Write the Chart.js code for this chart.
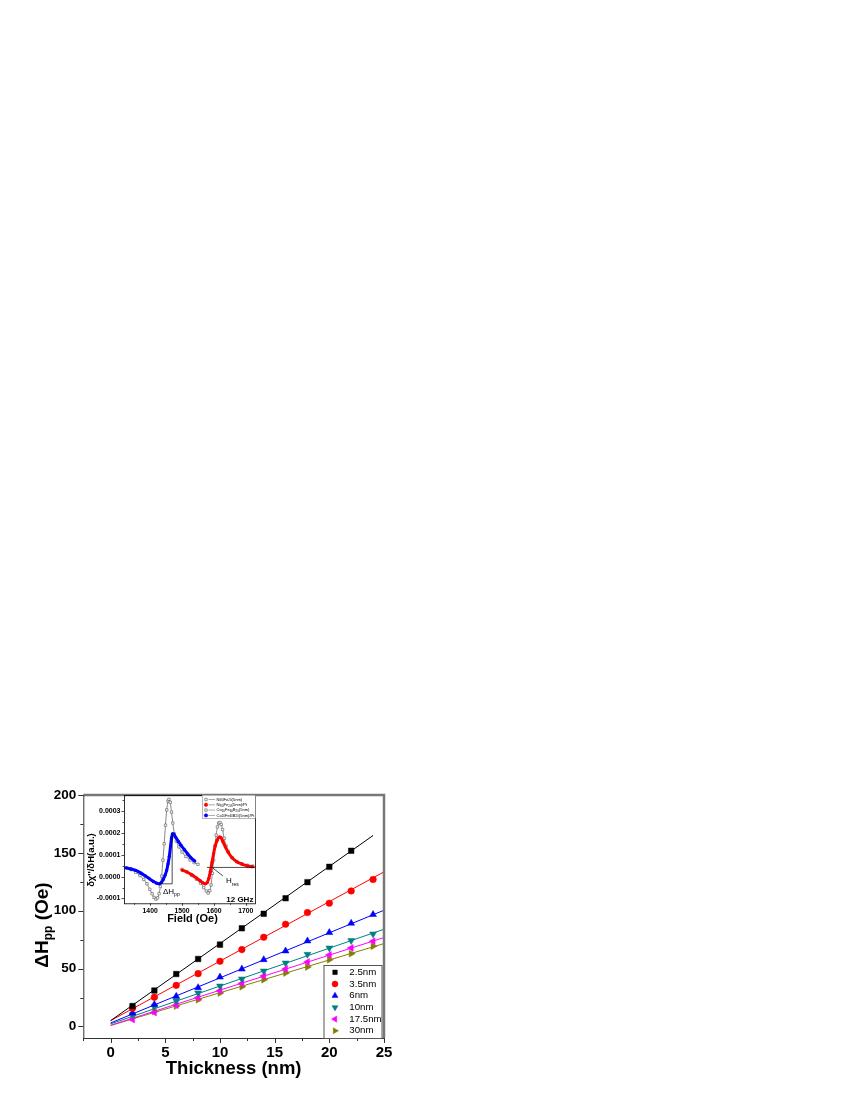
<!DOCTYPE html>
<html><head><meta charset="utf-8">
<script src="https://cdn.jsdelivr.net/npm/chart.js@4.4.0/dist/chart.umd.min.js"></script>
<style>
html,body{margin:0;padding:0;background:#fff;}
#wrap{position:relative;width:850px;height:1100px;background:#fff;}
#main{position:absolute;left:0;top:0;}
#inset{position:absolute;left:80px;top:788px;}
</style></head><body>
<div id="wrap"><canvas id="main" width="850" height="1100"></canvas><canvas id="inset" width="180" height="150"></canvas></div>
<script>
const FONT = "'Liberation Sans', Arial, Helvetica, sans-serif";

// ---------------- main chart data ----------------
const thickness = [2,4,6,8,10,12,14,16,18,20,22,24];
const seriesLabels = ['2.5nm','3.5nm','6nm','10nm','17.5nm','30nm'];
const dH_2_5  = [17.6,31.0,45.3,58.3,70.7,84.8,97.3,110.8,124.7,137.9,151.8,null];
const dH_3_5  = [15.8,25.2,35.5,45.6,56.3,66.4,77.1,88.3,98.4,106.5,117.1,127.0];
const dH_6    = [11.5,19.0,26.0,33.5,42.7,49.6,57.7,65.2,73.9,81.1,89.2,96.7];
const dH_10   = [10.0,17.0,22.2,28.9,34.9,41.0,47.9,54.8,62.3,67.8,74.2,79.9];
const dH_17_5 = [6.0,12.0,18.4,24.8,30.9,37.2,43.6,49.6,55.7,61.8,67.8,73.6];
const dH_30   = [7.8,13.0,17.6,23.1,28.9,34.3,40.4,46.2,51.4,57.7,62.9,69.3];
// linear fit end points
const fitX0 = [0,0,0,0,0,0];
const fitY0 = [5.0,5.0,3.0,2.2,1.0,0.8];
const fitX1 = [24,25,25,25,25,25];
const fitY1 = [165,133.6,100.4,84.0,76.8,71.6];
const xTickVals = [-2.5,0,2.5,5,7.5,10,12.5,15,17.5,20,22.5,25];
const yTickVals = [0,25,50,75,100,125,150,175,200];

// ---------------- inset data (y in units of 1e-4) ----------------
const coFeB_x = [1325,1340,1355,1368,1380,1390,1399,1406,1412,1418,1423,1428,1432,1436,1440,1444,1448,1452,1456,1459,1463,1467,1471,1476,1482,1490,1500,1512,1525,1538,1550];
const coFeB_y = [0.40,0.32,0.20,0.05,-0.13,-0.33,-0.58,-0.78,-0.95,-1.03,-0.97,-0.78,-0.45,0.02,0.75,1.50,2.35,3.05,3.45,3.53,3.40,2.95,2.45,1.95,1.62,1.36,1.12,0.92,0.76,0.64,0.56];
const coFeBPt_x = [1325,1340,1355,1370,1385,1398,1410,1420,1428,1435,1441,1447,1452,1456,1460,1464,1467,1470,1474,1480,1488,1497,1507,1517,1528,1540];
const coFeBPt_y = [0.40,0.35,0.28,0.17,0.03,-0.10,-0.22,-0.30,-0.33,-0.27,-0.13,0.07,0.30,0.58,0.92,1.40,1.75,1.96,1.94,1.80,1.62,1.43,1.24,1.05,0.86,0.71];
const niFe_x = [1500,1515,1530,1545,1558,1568,1576,1582,1587,1591,1595,1599,1603,1607,1611,1615,1619,1623,1627,1632,1638,1645,1657,1672,1688,1705,1722];
const niFe_y = [0.33,0.22,0.05,-0.12,-0.30,-0.50,-0.66,-0.75,-0.64,-0.38,0.15,0.75,1.40,1.90,2.27,2.45,2.47,2.38,2.15,1.75,1.40,1.15,0.87,0.68,0.58,0.52,0.48];
const niFePt_x = [1500,1515,1530,1545,1557,1566,1573,1579,1584,1589,1594,1599,1604,1610,1617,1622,1628,1636,1645,1657,1672,1688,1705,1722];
const niFePt_y = [0.30,0.21,0.09,-0.06,-0.19,-0.29,-0.33,-0.27,-0.08,0.25,0.65,1.05,1.40,1.66,1.81,1.78,1.60,1.35,1.10,0.86,0.68,0.57,0.49,0.45];
// legend labels: [text, isSubscript] pieces
const insetLabels = [
  [['Ni',0],['80',1],['Fe',0],['20',1],['(5nm)',0]],
  [['Ni',0],['80',1],['Fe',0],['20',1],['(5nm)/Pt',0]],
  [['Co',0],['20',1],['Fe',0],['60',1],['B',0],['20',1],['(5nm)',0]],
  [['Co',0],['20',1],['Fe',0],['60',1],['B',0],['20',1],['(5nm)/Pt',0]]
];
const dHpp_x = [1428,1469,1469];
const dHpp_y = [-0.33,-0.33,1.97];
const base_x = [1578,1730];
const base_y = [0.42,0.42];
const hres_x = [1596,1628];
const hres_y = [0.40,0.03];
const insetXTicks = [1400,1500,1600,1700];
const insetXMinor = [1350,1450,1550,1650];
const insetYTicks = [-1,0,1,2,3];
const insetYMinor = [-0.5,0.5,1.5,2.5,3.5];

// ---------------- styles ----------------
const colors = ['#000000','#ff0000','#0000ff','#008080','#ff00ff','#808000'];
const styles = ['rect','circle','triangle','triangle','triangle','triangle'];
const rots = [0,0,0,180,270,90];
const radii = [3.9,3.3,4.0,4.0,4.0,4.0];
const series = [dH_2_5,dH_3_5,dH_6,dH_10,dH_17_5,dH_30];

function marker(ctx, style, rot, r, x, y, fill, stroke, bw){
  ctx.save();
  ctx.fillStyle = fill; ctx.strokeStyle = stroke; ctx.lineWidth = bw;
  if (Chart.helpers && Chart.helpers.drawPoint) {
    Chart.helpers.drawPoint(ctx, {pointStyle: style, rotation: rot, radius: r, borderWidth: bw}, x, y);
  } else {
    ctx.beginPath(); ctx.arc(x, y, r, 0, Math.PI*2); ctx.fill(); if (bw>0) ctx.stroke();
  }
  ctx.restore();
}

const mainDatasets = [];
series.forEach((s,i)=>{
  mainDatasets.push({
    label: seriesLabels[i],
    data: thickness.map((x,j)=>({x:x, y:s[j]})).filter(p=>p.y!==null),
    showLine:false, pointStyle: styles[i], pointRotation: rots[i], pointRadius: radii[i],
    pointBackgroundColor: colors[i], pointBorderColor: colors[i], pointBorderWidth: 0.5, order: 0
  });
  mainDatasets.push({
    label: seriesLabels[i]+' fit',
    data: [{x:fitX0[i], y:fitY0[i]},{x:fitX1[i], y:fitY1[i]}],
    showLine:true, pointRadius:0, borderColor: colors[i], borderWidth:1, order: 1
  });
});

function tickSet(ctx, scale, vals, len, horizontal, pos){
  vals.forEach(v=>{
    const p = Math.round(scale.getPixelForValue(v)) + 0.5;
    ctx.beginPath();
    if (horizontal){ ctx.moveTo(p, pos); ctx.lineTo(p, pos+len); }
    else { ctx.moveTo(pos, p); ctx.lineTo(pos-len, p); }
    ctx.stroke();
  });
}

const mainDeco = {
  id:'mainDeco',
  afterDraw(chart){
    const ctx = chart.ctx, ca = chart.chartArea;
    const xs = chart.scales.x, ys = chart.scales.y;
    ctx.save();
    ctx.strokeStyle = '#777'; ctx.lineWidth = 2.5;
    ctx.beginPath(); ctx.moveTo(ca.left, ca.top); ctx.lineTo(ca.right, ca.top); ctx.lineTo(ca.right, ca.bottom); ctx.stroke();
    ctx.strokeStyle = '#333'; ctx.lineWidth = 1;
    ctx.beginPath(); ctx.moveTo(ca.left+0.5, ca.top); ctx.lineTo(ca.left+0.5, ca.bottom+0.5); ctx.lineTo(ca.right, ca.bottom+0.5); ctx.stroke();
    const xMaj = xTickVals.filter(v=>v%5===0), xMin = xTickVals.filter(v=>v%5!==0);
    const yMaj = yTickVals.filter(v=>v%50===0), yMin = yTickVals.filter(v=>v%50!==0);
    tickSet(ctx, xs, xMaj, 5, true, ca.bottom);
    tickSet(ctx, xs, xMin, 3, true, ca.bottom);
    tickSet(ctx, ys, yMaj, 5, false, ca.left);
    tickSet(ctx, ys, yMin, 3, false, ca.left);
    ctx.fillStyle = '#000';
    ctx.font = 'bold 18.5px ' + FONT; ctx.textAlign = 'center'; ctx.textBaseline = 'alphabetic';
    ctx.fillText('Thickness (nm)', (ca.left+ca.right)/2, 1073.5);
    ctx.save();
    ctx.translate(47.5, 925); ctx.rotate(-Math.PI/2);
    const big = 'bold 19px ' + FONT, small = 'bold 12px ' + FONT;
    ctx.font = big; const w1 = ctx.measureText('\u0394H').width, w3 = ctx.measureText(' (Oe)').width;
    ctx.font = small; const w2 = ctx.measureText('pp').width;
    let x0 = -(w1+w2+w3)/2;
    ctx.textAlign = 'left';
    ctx.font = big; ctx.fillText('\u0394H', x0, 0);
    ctx.font = small; ctx.fillText('pp', x0+w1, 4.5);
    ctx.font = big; ctx.fillText(' (Oe)', x0+w1+w2, 0);
    ctx.restore();
    const lx0 = 323.5, ly0 = 965, lw = 58, lh = ca.bottom - ly0;
    ctx.fillStyle = '#fff'; ctx.fillRect(lx0, ly0, lw, lh);
    ctx.strokeStyle = '#555'; ctx.lineWidth = 1;
    ctx.strokeRect(lx0+0.5, ly0+0.5, lw, lh);
    ctx.font = '9.7px ' + FONT; ctx.textAlign = 'left'; ctx.textBaseline = 'middle';
    seriesLabels.forEach((lab,i)=>{
      const yy = 972.3 + i*11.7;
      const r = styles[i]==='rect' ? 3.2 : (styles[i]==='circle' ? 3.0 : 3.5);
      marker(ctx, styles[i], rots[i], r, 335, yy, colors[i], colors[i], 0.5);
      ctx.fillStyle = '#000';
      ctx.fillText(lab, 349.3, yy);
    });
    ctx.restore();
  }
};

new Chart(document.getElementById('main'), {
  type:'scatter',
  data:{datasets: mainDatasets},
  options:{
    responsive:false, animation:false, devicePixelRatio:1,
    layout:{padding:{left:0, top:795, right:466, bottom:0}},
    plugins:{legend:{display:false}, tooltip:{enabled:false}},
    scales:{
      x:{type:'linear', min:-2.5, max:25,
        afterBuildTicks: s=>{ s.ticks = xTickVals.map(v=>({value:v})); },
        ticks:{autoSkip:false, maxRotation:0, padding:1, color:'#000',
          font:{family:FONT, size:15, weight:'bold'},
          callback:(v)=> (Math.abs(v%5)<1e-9 ? String(v) : '')},
        grid:{drawOnChartArea:false, drawTicks:true, tickLength:5, color:'rgba(0,0,0,0)'},
        border:{display:false},
        afterFit: s=>{ s.height = 62; }
      },
      y:{type:'linear', min:-10, max:200,
        afterBuildTicks: s=>{ s.ticks = yTickVals.map(v=>({value:v})); },
        ticks:{autoSkip:false, padding:2, color:'#000',
          font:{family:FONT, size:13.5, weight:'bold'},
          callback:(v)=> (v%50===0 ? String(v) : '')},
        grid:{drawOnChartArea:false, drawTicks:true, tickLength:5, color:'rgba(0,0,0,0)'},
        border:{display:false},
        afterFit: s=>{ s.width = 83.3; }
      }
    }
  },
  plugins:[mainDeco]
});

// ---------------- inset chart ----------------
const pts = (xs, ys) => xs.map((x,i)=>({x:x, y:ys[i]*1e-4}));
const greyDS = (xs, ys) => ({data: pts(xs, ys), showLine:true, cubicInterpolationMode:'monotone',
  borderColor:'#555', borderWidth:0.7, pointStyle:'rect', pointRadius:1.7,
  pointBackgroundColor:'#fff', pointBorderColor:'#555', pointBorderWidth:0.6, order:2});
const colDS = (xs, ys, col) => ({data: pts(xs, ys), showLine:true, cubicInterpolationMode:'monotone',
  borderColor: col, borderWidth:3.0, pointStyle:'circle', pointRadius:1.6,
  pointBackgroundColor: col, pointBorderColor: col, pointBorderWidth:0, order:1});
const annDS = (xs, ys) => ({data: pts(xs, ys), showLine:true, borderColor:'#000', borderWidth:0.7, pointRadius:0, order:0});

const insetDatasets = [
  greyDS(niFe_x, niFe_y),
  colDS(niFePt_x, niFePt_y, '#ff0000'),
  greyDS(coFeB_x, coFeB_y),
  colDS(coFeBPt_x, coFeBPt_y, '#0000ff'),
  annDS(dHpp_x, dHpp_y), annDS(base_x, base_y), annDS(hres_x, hres_y)
];

function subText(ctx, pieces, x, y, size){
  pieces.forEach(([t, sub])=>{
    ctx.font = (sub ? (size*0.7) : size) + 'px ' + FONT;
    ctx.fillText(t, x, y + (sub ? size*0.25 : 0));
    x += ctx.measureText(t).width;
  });
}

const insetDeco = {
  id:'insetDeco',
  afterDraw(chart){
    const ctx = chart.ctx, ca = chart.chartArea;
    const xs = chart.scales.x, ys = chart.scales.y;
    ctx.save();
    ctx.strokeStyle = '#000'; ctx.lineWidth = 0.8;
    ctx.strokeRect(ca.left+0.5, ca.top+0.5, ca.right-ca.left-0.5, ca.bottom-ca.top);
    ctx.lineWidth = 0.7;
    tickSet(ctx, xs, insetXTicks, 2.5, true, ca.bottom);
    tickSet(ctx, xs, insetXMinor, 1.5, true, ca.bottom);
    tickSet(ctx, ys, insetYTicks.map(v=>v*1e-4), 2.5, false, ca.left);
    tickSet(ctx, ys, insetYMinor.map(v=>v*1e-4), 1.5, false, ca.left);
    ctx.fillStyle = '#000';
    ctx.save(); ctx.translate(11.7, 72); ctx.rotate(-Math.PI/2);
    ctx.font = 'bold 9.5px ' + FONT; ctx.textAlign='center'; ctx.textBaseline='middle';
    ctx.fillText("\u03B4\u03C7''/\u03B4H(a.u.)", 0, 0);
    ctx.restore();
    ctx.font = 'bold 11px ' + FONT; ctx.textAlign='center'; ctx.textBaseline='middle';
    ctx.fillText('Field (Oe)', 112.5, 130.5);
    ctx.font = 'bold 8px ' + FONT; ctx.textAlign='right'; ctx.textBaseline='alphabetic';
    ctx.fillText('12 GHz', ca.right-2, ca.bottom-1.8);
    ctx.textAlign='left';
    ctx.font = '8px ' + FONT; ctx.fillText('\u0394H', 83, 105.5);
    let w = ctx.measureText('\u0394H').width;
    ctx.font = '5px ' + FONT; ctx.fillText('pp', 83+w, 108);
    ctx.font = '8px ' + FONT; ctx.fillText('H', 146, 95);
    w = ctx.measureText('H').width;
    ctx.font = '5px ' + FONT; ctx.fillText('res', 146+w, 97.5);
    // legend
    const bx = 122, by = ca.top, bw = ca.right-122, bh = 23;
    ctx.fillStyle='#fff'; ctx.fillRect(bx, by, bw, bh);
    ctx.strokeStyle='#888'; ctx.lineWidth=0.6; ctx.strokeRect(bx+0.5, by+0.5, bw-0.5, bh);
    const fills = ['#fff','#ff0000','#fff','#0000ff'];
    const strokes = ['#555','#ff0000','#555','#0000ff'];
    const shapes = ['rect','circle','rect','circle'];
    ctx.textBaseline='middle';
    insetLabels.forEach((lab,i)=>{
      const yy = by + 4.5 + i*5.3;
      ctx.strokeStyle='#555'; ctx.lineWidth=0.5;
      ctx.beginPath(); ctx.moveTo(128.5, yy); ctx.lineTo(135, yy); ctx.stroke();
      marker(ctx, shapes[i], 0, 1.7, 126, yy, fills[i], strokes[i], 0.6);
      ctx.fillStyle='#000';
      subText(ctx, lab, 136.5, yy, 4.1);
    });
    ctx.restore();
  }
};

new Chart(document.getElementById('inset'), {
  type:'scatter',
  data:{datasets: insetDatasets},
  options:{
    responsive:false, animation:false, devicePixelRatio:1,
    layout:{padding:{left:0, top:7, right:3.3, bottom:0}},
    plugins:{legend:{display:false}, tooltip:{enabled:false}},
    scales:{
      x:{type:'linear', min:1318, max:1730,
        afterBuildTicks: s=>{ s.ticks = insetXTicks.map(v=>({value:v})); },
        ticks:{autoSkip:false, maxRotation:0, padding:1.5, color:'#000', font:{family:FONT, size:6.8, weight:'bold'},
          callback:(v)=> String(v)},
        grid:{drawOnChartArea:false, drawTicks:true, tickLength:2.5, color:'rgba(0,0,0,0)'},
        border:{display:false},
        afterFit: s=>{ s.height = 34.7; }
      },
      y:{type:'linear', min:-1.22e-4, max:3.73e-4,
        afterBuildTicks: s=>{ s.ticks = insetYTicks.map(v=>({value:v*1e-4})); },
        ticks:{autoSkip:false, padding:1, color:'#000', font:{family:FONT, size:7, weight:'bold'},
          callback:(v)=> (Math.abs(v)<1e-12 ? '0.0000' : v.toFixed(4))},
        grid:{drawOnChartArea:false, drawTicks:true, tickLength:2.5, color:'rgba(0,0,0,0)'},
        border:{display:false},
        afterFit: s=>{ s.width = 44; }
      }
    }
  },
  plugins:[insetDeco]
});
</script>
</body></html>
